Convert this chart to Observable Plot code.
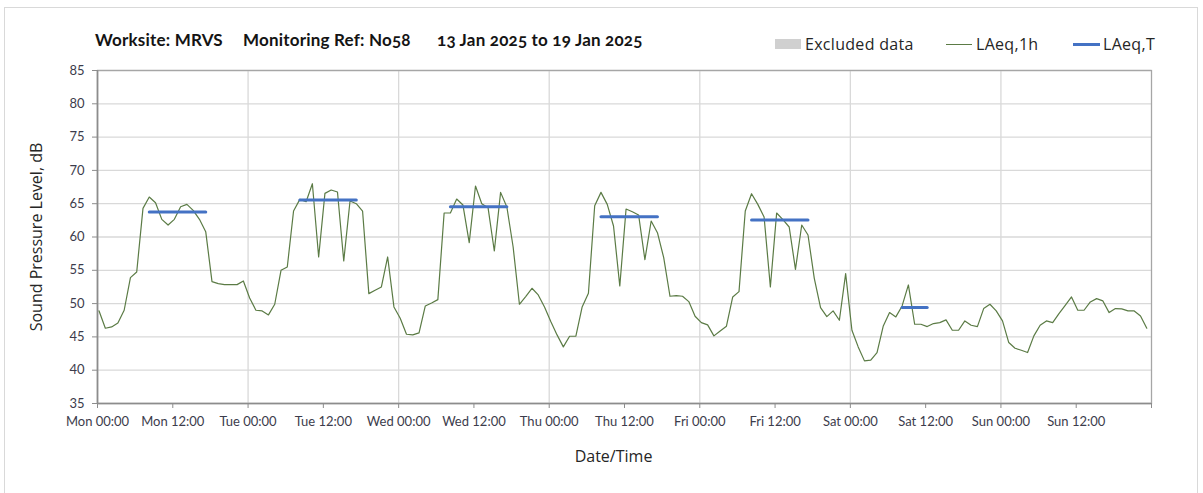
<!DOCTYPE html>
<html>
<head>
<meta charset="utf-8">
<script src="https://cdn.jsdelivr.net/npm/d3@7"></script>
<script src="https://cdn.jsdelivr.net/npm/@observablehq/plot@0.6"></script>
<style>
  body { margin: 0; background: #fff; }
  #wrap { position: relative; width: 1203px; height: 493px; overflow: hidden; }
  #border { position: absolute; left: 4px; top: 7px; width: 1194px; height: 520px; border: 1px solid #d9d9d9; box-sizing: border-box; }
  .ttl { position: absolute; top: 29px; font: bold 17px Lato, sans-serif; letter-spacing: 0.2px; color: #141414; white-space: nowrap; font-variant-numeric: oldstyle-nums; }
  .lg { position: absolute; top: 33px; font: 16px "Open Sans", sans-serif; letter-spacing: 0.3px; color: #262626; white-space: nowrap; line-height: 22px; }
  .sw { position: absolute; }
  #chart { position: absolute; left: 0; top: 60px; }
</style>
</head>
<body>
<div id="wrap">
  <div id="border"></div>
  <div class="ttl" id="t1" style="left:95px"></div>
  <div class="ttl" id="t2" style="left:243px"></div>
  <div class="ttl" id="t3" style="left:437px"></div>
  <div class="sw" style="left:775px;top:39px;width:26px;height:10px;background:#d0d0d0"></div>
  <div class="lg" id="l1" style="left:805px"></div>
  <div class="sw" style="left:946px;top:43.5px;width:26px;height:1.3px;background:#5b7b45"></div>
  <div class="lg" id="l2" style="left:976px"></div>
  <div class="sw" style="left:1073px;top:42.5px;width:27px;height:3px;background:#4472c4"></div>
  <div class="lg" id="l3" style="left:1103px"></div>
  <div id="chart"></div>
</div>
<script>
// ---- Text ----
const titleParts = ["Worksite: MRVS", "Monitoring Ref: No58", "13 Jan 2025 to 19 Jan 2025"];
const legendLabels = ["Excluded data", "LAeq,1h", "LAeq,T"];
const yTitle = "Sound Pressure Level, dB";
const xTitle = "Date/Time";

// ---- Data ----
const weekStart = "2025-01-13T00:00:00Z";
const weekEnd = "2025-01-20T00:00:00Z";
// hourly LAeq,1h readings from Mon 00:00 (168 values)
const laeq1h = [
  48.9, 46.3, 46.5, 47.1, 49.0, 53.9, 54.75, 64.3, 66.0, 65.15, 62.65, 61.8,
  62.65, 64.55, 64.9, 64.0, 62.65, 60.8, 53.3, 53.0, 52.85, 52.85, 52.85, 53.4,
  50.85, 49.0, 48.9, 48.3, 49.9, 55.0, 55.5, 63.9, 65.65, 65.3, 68.0, 57.0,
  66.55, 67.05, 66.75, 56.4, 65.4, 65.0, 63.9, 51.5, 52.0, 52.5, 57.0, 49.5,
  47.8, 45.4, 45.3, 45.6, 49.65, 50.1, 50.6, 63.6, 63.6, 65.7, 64.8, 59.15,
  67.65, 65.0, 64.4, 57.9, 66.7, 64.5, 58.5, 49.9, 51.05, 52.3, 51.3, 49.5,
  47.3, 45.3, 43.5, 45.1, 45.1, 49.5, 51.55, 64.7, 66.7, 64.9, 61.65, 52.65,
  64.2, 63.8, 63.3, 56.6, 62.4, 60.65, 56.9, 51.1, 51.2, 51.1, 50.3, 48.1,
  47.15, 46.8, 45.15, 45.9, 46.6, 51.0, 51.8, 63.9, 66.5, 64.9, 63.0, 52.5,
  63.6, 62.6, 61.5, 55.15, 61.8, 60.3, 53.8, 49.4, 48.05, 48.9, 47.5, 54.5,
  46.0, 43.5, 41.4, 41.5, 42.65, 46.65, 48.65, 48.0, 49.65, 52.8, 46.9, 46.9,
  46.55, 47.0, 47.15, 47.55, 46.0, 46.0, 47.4, 46.75, 46.55, 49.25, 49.9, 48.9,
  47.4, 44.15, 43.3, 43.0, 42.65, 45.15, 46.75, 47.4, 47.15, 48.5, 49.75, 51.0,
  49.0, 49.0, 50.25, 50.75, 50.4, 48.65, 49.25, 49.2, 48.9, 48.9, 48.15, 46.3
];
// LAeq,T over the working period of each day (first and last hourly reading)
const periodDays = ["2025-01-13", "2025-01-14", "2025-01-15", "2025-01-16", "2025-01-17", "2025-01-18"];
const periodFirstHour = ["08:00", "08:00", "08:00", "08:00", "08:00", "08:00"];
const periodLastHour = ["17:00", "17:00", "17:00", "17:00", "17:00", "12:00"];
const laeqT = [63.75, 65.55, 64.55, 63.05, 62.55, 49.4];
const yTicks = [35, 40, 45, 50, 55, 60, 65, 70, 75, 80, 85];

// ---- Build tables ----
const t0 = new Date(weekStart);
const t1 = new Date(weekEnd);
const readingOffsetMin = 15; // hourly readings drawn a quarter-hour into each hour slot
const stamp = d => d3.utcMinute.offset(d, readingOffsetMin);
const hourly = laeq1h.map((v, i) => ({ time: stamp(d3.utcHour.offset(t0, i)), value: v }));
const periods = laeqT.map((v, i) => ({
  start: stamp(new Date(`${periodDays[i]}T${periodFirstHour[i]}:00Z`)),
  end: stamp(new Date(`${periodDays[i]}T${periodLastHour[i]}:00Z`)),
  value: v
}));
const xTicks = d3.utcHour.every(12).range(t0, d3.utcHour.offset(t1, 1));
const dayTicks = d3.utcDay.range(t0, t1);
const fmt = d3.utcFormat("%a %H:%M");

document.getElementById("t1").textContent = titleParts[0];
document.getElementById("t2").textContent = titleParts[1];
document.getElementById("t3").textContent = titleParts[2];
document.getElementById("l1").textContent = legendLabels[0];
document.getElementById("l2").textContent = legendLabels[1];
document.getElementById("l3").textContent = legendLabels[2];

const chart = Plot.plot({
  width: 1203,
  height: 433,
  marginTop: 10,
  marginBottom: 90,
  marginLeft: 97,
  marginRight: 52,
  style: { fontFamily: "Lato, sans-serif", fontSize: "13px", color: "#3c3c4c", background: "transparent", fontVariantNumeric: "oldstyle-nums" },
  x: { type: "utc", domain: [t0, t1] },
  y: { domain: [35, 85] },
  marks: [
    Plot.gridY(yTicks, { stroke: "#d9d9d9", strokeOpacity: 1, strokeWidth: 1.3 }),
    Plot.gridX(dayTicks, { stroke: "#d9d9d9", strokeOpacity: 1, strokeWidth: 1.3 }),
    Plot.frame({ stroke: "#a6a6a6", strokeWidth: 1.3 }),
    Plot.axisY(yTicks, { tickSize: 5, tickPadding: 8, stroke: "#8c8c8c", label: null }),
    Plot.axisX(xTicks, { tickSize: 5, tickPadding: 8, stroke: "#8c8c8c", label: null,
      tickFormat: d => (+d === +t1 ? "" : fmt(d)) }),
    Plot.ruleY([35], { stroke: "#8c8c8c", strokeWidth: 1.6 }),
    Plot.ruleX([t0], { stroke: "#8c8c8c", strokeWidth: 1.6 }),
    Plot.line(hourly, { x: "time", y: "value", stroke: "#5b7b45", strokeWidth: 1.2 }),
    Plot.link(periods, { x1: "start", x2: "end", y1: "value", y2: "value", stroke: "#4472c4", strokeWidth: 3, strokeLinecap: "round" }),
    Plot.text([yTitle], { frameAnchor: "left", textAnchor: "middle", dx: -61, rotate: -90, fontSize: 16, fontFamily: "Open Sans, sans-serif", fill: "#262626" }),
    Plot.text([xTitle], { frameAnchor: "bottom", dy: 58, dx: -11, fontSize: 16, fontFamily: "Open Sans, sans-serif", fill: "#262626" })
  ]
});
document.getElementById("chart").appendChild(chart);
</script>
</body>
</html>
